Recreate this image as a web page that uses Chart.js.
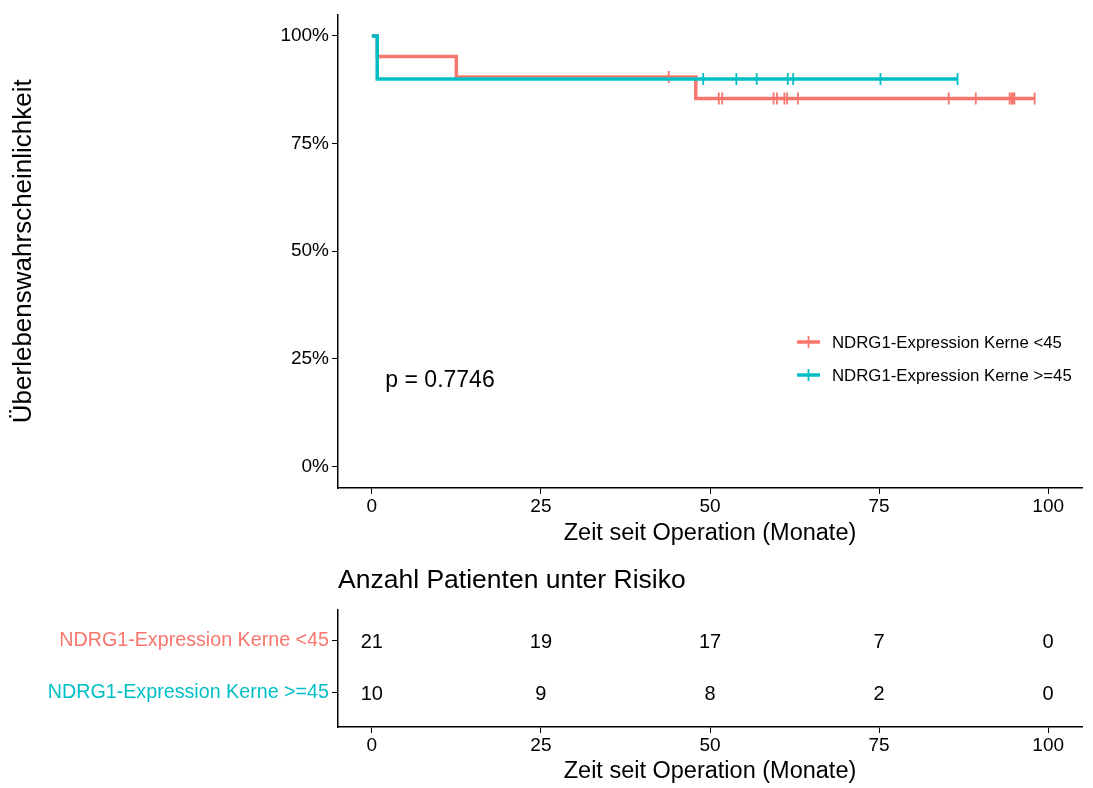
<!DOCTYPE html>
<html>
<head>
<meta charset="utf-8">
<title>Kaplan-Meier NDRG1</title>
<script src="https://cdn.jsdelivr.net/npm/chart.js@4.4.1/dist/chart.umd.min.js"></script>
<style>
  html, body { margin: 0; padding: 0; background: #fff; }
  #wrap { position: relative; width: 1093px; height: 788px; }
  #kmChart { position: absolute; left: 0; top: 0; }
  #riskChart { position: absolute; left: 0; top: 560px; }
</style>
</head>
<body>
<div id="wrap">
  <canvas id="kmChart" width="1093" height="560"></canvas>
  <canvas id="riskChart" width="1093" height="228"></canvas>
</div>
<script>
// groups and colours
const groups = ['NDRG1-Expression Kerne <45', 'NDRG1-Expression Kerne >=45'];
const groupColors = ['#F8766D', '#00BFC4'];

// survival steps (time in months, survival in %)
const lowTimes = [0, 0.8, 12.5, 47.9, 98.0];
const lowSurv = [100, 95.24, 90.48, 85.45, 85.45];
const highTimes = [0, 0.8, 86.6];
const highSurv = [100, 90, 90];

// censored observations
const lowCensor = [43.9, 51.3, 51.8, 59.4, 59.9, 61.0, 61.4, 63.0, 85.3, 89.3, 94.3, 94.6, 94.8, 95.0, 98.0];
const highCensor = [49.0, 53.9, 56.9, 61.5, 62.3, 75.2, 86.6];

// numbers at risk
const riskTimes = [0, 25, 50, 75, 100];
const riskLow = [21, 19, 17, 7, 0];
const riskHigh = [10, 9, 8, 2, 0];

const xTicks = [0, 25, 50, 75, 100];
const yTicks = [0, 25, 50, 75, 100];
const pText = 'p = 0.7746';

const FONT = "'Liberation Sans', Arial, sans-serif";
Chart.defaults.font.family = FONT;
Chart.defaults.color = '#000';

function survAt(times, surv, t) {
  let s = surv[0];
  for (let i = 0; i < times.length; i++) {
    if (times[i] <= t) s = surv[i];
  }
  return s;
}

function curve(times, surv) {
  return times.map((t, i) => ({ x: t, y: surv[i] }));
}

function censorPts(list, times, surv) {
  return list.map(t => ({ x: t, y: survAt(times, surv, t) }));
}

// legend + p value drawn inside the plot panel
const kmExtras = {
  id: 'kmExtras',
  afterDraw(chart) {
    const ctx = chart.ctx;
    const xs = chart.scales.x, ys = chart.scales.y;
    ctx.save();
    ctx.font = '23px ' + FONT;
    ctx.fillStyle = '#000';
    ctx.textBaseline = 'middle';
    ctx.textAlign = 'left';
    ctx.fillText(pText, xs.getPixelForValue(2), ys.getPixelForValue(20));

    const lx = 797, ly = [342, 375];
    ctx.font = '16.8px ' + FONT;
    groups.forEach((g, i) => {
      ctx.strokeStyle = groupColors[i];
      ctx.lineWidth = 3.5;
      ctx.beginPath();
      ctx.moveTo(lx, ly[i]);
      ctx.lineTo(lx + 23, ly[i]);
      ctx.stroke();
      ctx.lineWidth = 1.8;
      ctx.beginPath();
      ctx.moveTo(lx + 11.5, ly[i] - 6);
      ctx.lineTo(lx + 11.5, ly[i] + 6);
      ctx.stroke();
      ctx.fillStyle = '#000';
      ctx.fillText(g, lx + 35, ly[i] + 1);
    });
    ctx.restore();
  }
};

new Chart(document.getElementById('kmChart'), {
  type: 'scatter',
  data: {
    datasets: [
      { data: curve(lowTimes, lowSurv), showLine: true, stepped: true, borderColor: groupColors[0], borderWidth: 3.5, pointRadius: 0, order: 3 },
      { data: censorPts(lowCensor, lowTimes, lowSurv), pointStyle: 'line', rotation: 90, pointRadius: 6, pointBorderWidth: 1.8, borderColor: groupColors[0], order: 2 },
      { data: curve(highTimes, highSurv), showLine: true, stepped: true, borderColor: groupColors[1], borderWidth: 3.5, pointRadius: 0, order: 1 },
      { data: censorPts(highCensor, highTimes, highSurv), pointStyle: 'line', rotation: 90, pointRadius: 6, pointBorderWidth: 1.8, borderColor: groupColors[1], order: 0 }
    ]
  },
  options: {
    responsive: false,
    animation: false,
    layout: { padding: { top: 11, right: 11, left: 0, bottom: 0 } },
    plugins: { legend: { display: false }, tooltip: { enabled: false } },
    scales: {
      x: {
        type: 'linear', min: -5, max: 105,
        afterBuildTicks: s => { s.ticks = xTicks.map(v => ({ value: v })); },
        afterFit: s => { s.height = 72; },
        grid: { drawOnChartArea: false, tickLength: 6, tickColor: '#000', tickWidth: 1 },
        border: { color: '#000', width: 1.5 },
        ticks: { font: { size: 19 }, color: '#000', padding: 1, maxRotation: 0 },
        title: { display: true, text: 'Zeit seit Operation (Monate)', font: { size: 23.5 }, color: '#000', padding: { top: 2, bottom: 12 } }
      },
      y: {
        type: 'linear', min: -5, max: 105,
        afterBuildTicks: s => { s.ticks = yTicks.map(v => ({ value: v })); },
        afterFit: s => { s.width = 338; },
        grid: { drawOnChartArea: false, tickLength: 6, tickColor: '#000', tickWidth: 1 },
        border: { color: '#000', width: 1.5 },
        ticks: { font: { size: 19 }, color: '#000', padding: 3, callback: v => v + '%' },
        title: { display: true, text: 'Überlebenswahrscheinlichkeit', font: { size: 26 }, color: '#000', padding: { top: 8, bottom: 0 } }
      }
    }
  },
  plugins: [kmExtras]
});

// risk table: numbers written at each time / group position
const riskRows = [riskLow, riskHigh];
const riskExtras = {
  id: 'riskExtras',
  afterDraw(chart) {
    const ctx = chart.ctx;
    const xs = chart.scales.x, ys = chart.scales.y;
    ctx.save();
    ctx.fillStyle = '#000';
    ctx.textAlign = 'center';
    ctx.textBaseline = 'middle';
    ctx.font = '20px ' + FONT;
    riskRows.forEach((row, r) => {
      row.forEach((n, i) => {
        ctx.fillText(String(n), xs.getPixelForValue(riskTimes[i]), ys.getPixelForValue(2 - r) + 1);
      });
    });
    ctx.textAlign = 'left';
    ctx.font = '26.5px ' + FONT;
    ctx.fillText('Anzahl Patienten unter Risiko', chart.chartArea.left, 21);
    ctx.restore();
  }
};

new Chart(document.getElementById('riskChart'), {
  type: 'scatter',
  data: {
    datasets: riskRows.map((row, r) => ({
      data: row.map((n, i) => ({ x: riskTimes[i], y: 2 - r })),
      pointRadius: 0
    }))
  },
  options: {
    responsive: false,
    animation: false,
    layout: { padding: { top: 50, right: 11, left: 0, bottom: 0 } },
    plugins: { legend: { display: false }, tooltip: { enabled: false } },
    scales: {
      x: {
        type: 'linear', min: -5, max: 105,
        afterBuildTicks: s => { s.ticks = xTicks.map(v => ({ value: v })); },
        afterFit: s => { s.height = 61; },
        grid: { drawOnChartArea: false, tickLength: 6, tickColor: '#000', tickWidth: 1 },
        border: { color: '#000', width: 1.5 },
        ticks: { font: { size: 19 }, color: '#000', padding: 1, maxRotation: 0 },
        title: { display: true, text: 'Zeit seit Operation (Monate)', font: { size: 23.5 }, color: '#000', padding: { top: 2, bottom: 2 } }
      },
      y: {
        type: 'linear', min: 0.346, max: 2.596,
        afterBuildTicks: s => { s.ticks = [1, 2].map(v => ({ value: v })); },
        afterFit: s => { s.width = 338; },
        grid: { drawOnChartArea: false, tickLength: 6, tickColor: '#000', tickWidth: 1 },
        border: { color: '#000', width: 1.5 },
        ticks: {
          font: { size: 19.7 }, padding: 3,
          color: ctx => groupColors[ctx.index === 1 ? 0 : 1],
          callback: v => groups[2 - v]
        }
      }
    }
  },
  plugins: [riskExtras]
});
</script>
</body>
</html>
